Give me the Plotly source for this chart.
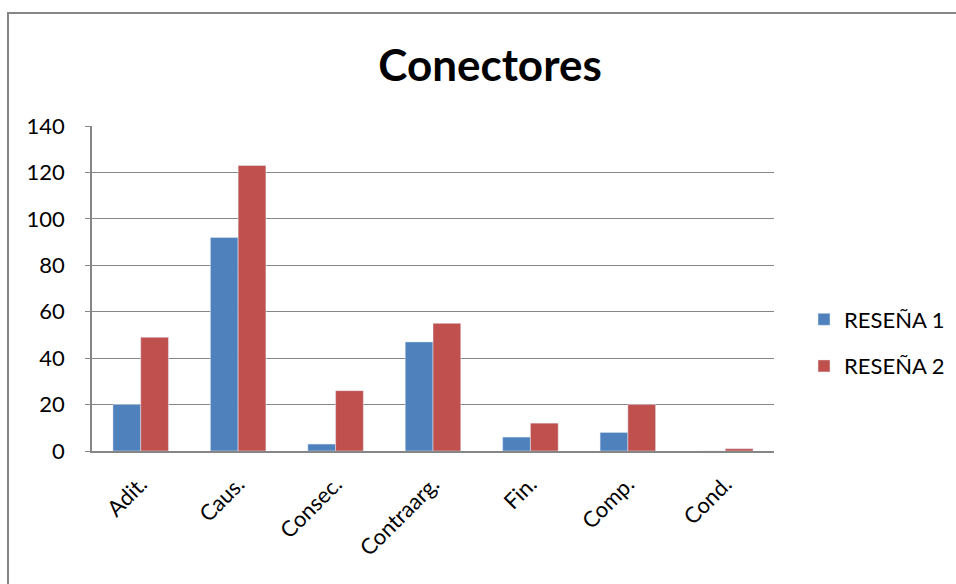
import plotly.graph_objects as go

categories = ["Adit.", "Caus.", "Consec.", "Contraarg.", "Fin.", "Comp.", "Cond."]
resena1 = [20, 92, 3, 47, 6, 8, 0]
resena2 = [49, 123, 26, 55, 12, 20, 1]
y_ticks = [0, 20, 40, 60, 80, 100, 120, 140]

FONT = "Lato, Carlito, Calibri, sans-serif"

fig = go.Figure()
fig.add_trace(go.Bar(x=categories, y=resena1, name="RESEÑA 1", marker_color="#4F81BD",
                     legendgroup="a"))
fig.add_trace(go.Bar(x=categories, y=resena2, name="RESEÑA 2", marker_color="#C0504D",
                     legendgroup="b"))

L, R, T, B = 92, 774, 126, 451
W, H = 956, 584
pw, ph = R - L, B - T

fig.update_layout(
    width=W, height=H,
    margin=dict(l=L, r=W - R, t=T, b=H - B, autoexpand=False),
    paper_bgcolor="white", plot_bgcolor="white",
    barmode="group", bargap=0.43, bargroupgap=0,
    font=dict(family=FONT, size=22, color="black"),
    title=dict(text="<b>Conectores</b>", x=490 / W, xanchor="center",
               y=1 - 66 / H, yanchor="middle", font=dict(size=44, family=FONT)),
    legend=dict(x=(804 - L) / pw, y=(451 - 343) / ph, xanchor="left", yanchor="middle",
                font=dict(size=22, family=FONT), tracegroupgap=15, itemwidth=30),
    showlegend=True,
)
fig.update_xaxes(showline=True, linecolor="#868686", linewidth=1.5, tickangle=-45,
                 ticks="", tickfont=dict(size=22), ticklabelstandoff=10)
fig.update_yaxes(range=[0, 140], tickvals=y_ticks, showgrid=True, gridcolor="#868686",
                 gridwidth=1, showline=True, linecolor="#868686", linewidth=1.5,
                 ticks="outside", ticklen=5, tickcolor="#868686", zeroline=False,
                 tickfont=dict(size=22), ticklabelstandoff=16)
fig.add_shape(type="rect", xref="paper", yref="paper",
              x0=(8 - L) / pw, x1=(W + 20 - L) / pw,
              y0=(B - (H + 20)) / ph, y1=(B - 13) / ph,
              line=dict(color="#868686", width=2), fillcolor="rgba(0,0,0,0)", layer="below")
fig.write_html("out.html")
